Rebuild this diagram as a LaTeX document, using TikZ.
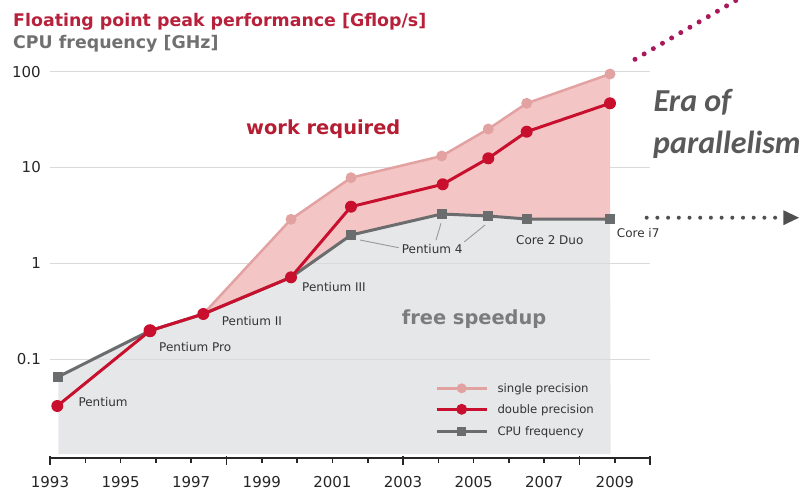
\documentclass[tikz,border=0pt]{standalone}
\usepackage{fontspec}
\setmainfont{DejaVu Sans}
\newfontfamily\erafont{Carlito}
\usetikzlibrary{calc}

\definecolor{dpred}{HTML}{C8102E}
\definecolor{sppink}{HTML}{E3A2A2}
\definecolor{cpugray}{HTML}{6B6C6E}
\definecolor{areapink}{HTML}{F4C5C5}
\definecolor{areagray}{HTML}{E6E7E9}
\definecolor{gridgray}{HTML}{DADADA}
\definecolor{titlered}{HTML}{B8213B}
\definecolor{titlegray}{HTML}{707070}
\definecolor{workred}{HTML}{B51D33}
\definecolor{freegray}{HTML}{7C7C7C}
\definecolor{eragray}{HTML}{595959}
\definecolor{dotmagenta}{HTML}{A8185A}
\definecolor{labelgray}{HTML}{333333}
\definecolor{arrowgray}{HTML}{505050}

\tikzset{
  spmark/.style={circle, fill=sppink, inner sep=0pt, minimum size=11pt},
  dpmark/.style={circle, fill=dpred, inner sep=0pt, minimum size=12pt},
  cpumark/.style={rectangle, fill=cpugray, inner sep=0pt, minimum size=10pt},
  spline/.style={draw=sppink, line width=2.5pt, line join=round},
  dpline/.style={draw=dpred, line width=3pt, line join=round},
  cpuline/.style={draw=cpugray, line width=3pt, line join=round},
  gridline/.style={draw=gridgray, line width=1.5pt},
  leader/.style={draw=gray!80, line width=0.9pt},
  cpulabel/.style={anchor=base west, inner sep=0pt, text=labelgray,
    font=\fontsize{12}{14}\selectfont},
  legendtext/.style={anchor=base west, inner sep=0pt, text=labelgray,
    font=\fontsize{11.7}{14}\selectfont},
  axislabel/.style={inner sep=0pt, text=black!85,
    font=\fontsize{15}{18}\selectfont},
  bigword/.style={anchor=base west, inner sep=0pt,
    font=\fontsize{19.4}{23}\selectfont\bfseries},
  titletext/.style={anchor=base west, inner sep=0pt,
    font=\fontsize{17.4}{20}\selectfont\bfseries},
  eratext/.style={anchor=base west, inner sep=0pt, text=eragray,
    font=\fontsize{32}{38}\selectfont\erafont\bfseries\itshape},
}

\begin{document}
\begin{tikzpicture}[x=1pt, y=-1pt]
\useasboundingbox (0,0) rectangle (802,492);
\clip (0,0) rectangle (802,492);

% data points (pixel layout, y grows downwards)
\coordinate (c1) at (58.3,376.7);
\coordinate (c5) at (351,235);
\coordinate (c6) at (441.7,214);
\coordinate (c7) at (488.3,216);
\coordinate (c8) at (526.7,219);
\coordinate (c9) at (610,219);
\coordinate (d1) at (57.3,406);
\coordinate (d2) at (150,330.7);
\coordinate (d3) at (203.3,314);
\coordinate (d4) at (291,277.3);
\coordinate (d5) at (351,206.7);
\coordinate (d6) at (442.7,184.3);
\coordinate (d7) at (488.3,158.3);
\coordinate (d8) at (526.7,131.7);
\coordinate (d9) at (610,103.3);
\coordinate (s4) at (291,219.3);
\coordinate (s5) at (351,177.7);
\coordinate (s6) at (441.7,156);
\coordinate (s7) at (488.3,129);
\coordinate (s8) at (526.7,103.3);
\coordinate (s9) at (610,74);
\coordinate (gbl) at (58.3,454);
\coordinate (gbr) at (610.7,454);

% free speedup area below the clock frequency
\fill[areagray] (c1) -- (d2) -- (d3) -- (d4) -- (c5) -- (c6) -- (c7) -- (c8) -- (c9)
  -- (gbr) -- (gbl) -- cycle;

% horizontal grid
\foreach \gy in {71.7,167.3,263.3,359.3}
  \draw[gridline] (50,\gy) -- (650,\gy);

% work required area between single precision and clock frequency
\fill[areapink] (d3) -- (s4) -- (s5) -- (s6) -- (s7) -- (s8) -- (s9)
  -- (c9) -- (c8) -- (c7) -- (c6) -- (c5) -- (d4) -- cycle;

% series lines
\draw[spline] (d3) -- (s4) -- (s5) -- (s6) -- (s7) -- (s8) -- (s9);
\draw[cpuline] (c1) -- (d2) -- (d3) -- (d4) -- (c5) -- (c6) -- (c7) -- (c8) -- (c9);
\draw[dpline] (d1) -- (d2) -- (d3) -- (d4) -- (d5) -- (d6) -- (d7) -- (d8) -- (d9);

% markers
\foreach \p in {4,...,9} \node[spmark] (SP\p) at (s\p) {};
\foreach \p in {1,5,6,7,8,9} \node[cpumark] (CPU\p) at (c\p) {};
\foreach \p in {1,...,9} \node[dpmark] (DP\p) at (d\p) {};
\node[dpmark, minimum size=13pt] (DP2b) at (d2) {};

% processor labels
\node[cpulabel] (lpent)  at (78.3,406.7)  {Pentium};
\node[cpulabel] (lpro)   at (159,351.7)   {Pentium Pro};
\node[cpulabel] (lp2)    at (221.7,325.1) {Pentium II};
\node[cpulabel] (lp3)    at (302,291.7)   {Pentium III};
\node[cpulabel] (lp4)    at (401.7,253.7) {Pentium 4};
\node[cpulabel] (lc2d)   at (516,244.4)   {Core 2 Duo};
\node[cpulabel] (lci7)   at (616.7,237.7) {Core i7};

% leaders from the Pentium 4 points to their label
\draw[leader] ($(CPU5)+(9,5)$) -- ($(lp4.west)+(-3,-1.5)$);
\draw[leader] ($(CPU6)+(-0.7,9.3)$) -- ($(lp4.north west)+(34.3,-4.3)$);
\draw[leader] ($(CPU7)+(-3.3,9)$) -- ($(lp4.north east)+(1.6,-2.5)$);

% area captions
\node[bigword, text=workred] (work) at (246,134.3) {work required};
\node[bigword, text=freegray] (free) at (401.7,324) {free speedup};

% titles
\node[titletext, text=titlered] (t1) at (13,26.7) {Floating point peak performance [Gflop/s]};
\node[titletext, text=titlegray] (t2) at (13,48.3) {CPU frequency [GHz]};

% legend
\draw[spline] (436.7,388.3) -- (486.7,388.3);
\node[spmark, minimum size=10pt] (legsp) at (461.7,388.3) {};
\draw[dpline] (436.7,409.3) -- (486.7,409.3);
\node[dpmark, minimum size=11pt] (legdp) at (461.7,409.3) {};
\draw[cpuline] (436.7,431) -- (486.7,431);
\node[cpumark, minimum size=9pt] (legcpu) at (461.7,431) {};
\node[legendtext] (ltsp) at (497.3,392.7) {single precision};
\node[legendtext] (ltdp) at (497.3,413.7) {double precision};
\node[legendtext] (ltcpu) at (497.3,435.4) {CPU frequency};

% x axis
\draw[black!85, line width=2pt] (50,458) -- (650,458);
\foreach \k in {0,...,17} {
  \pgfmathtruncatemacro{\r}{mod(\k,5)}
  \ifnum\r=0
    \draw[black!85, line width=1.6pt] ({50+35.3*\k},456) -- ({50+35.3*\k},465);
  \else
    \draw[black!85, line width=1.6pt] ({50+35.3*\k},458) -- ({50+35.3*\k},463);
  \fi
}
\draw[black!85, line width=1.6pt] (650,456) -- (650,465);
\foreach \yr [count=\i from 0] in {1993,1995,...,2009}
  \node[axislabel] (yr\yr) at ({50+70.6*\i},481.7) {\yr};

% y axis labels
\node[axislabel, anchor=east] (yl100) at (41,71.7) {100};
\node[axislabel, anchor=east] (yl10) at (41,167.3) {10};
\node[axislabel, anchor=east] (yl1) at (41,263.3) {1};
\node[axislabel, anchor=east] (yl01) at (41,359.3) {0.1};

% era of parallelism
\node[eratext] (era1) at (653.3,111.7) {Era of};
\node[eratext] (era2) at (653,153.3) {parallelism};

% dotted pointers
\coordinate (mstart) at (635,59.3);
\coordinate (mend) at (760,-13.6);
\draw[dotmagenta, line width=5pt, line cap=round, dash pattern=on 0pt off 10.6pt]
  (mstart) -- (mend);
\coordinate (hstart) at (646.7,217.7);
\coordinate (hend) at (776,217.7);
\coordinate (htip) at (799,217.7);
\draw[arrowgray, line width=4pt, line cap=round, dash pattern=on 0pt off 10.7pt]
  (hstart) -- (hend);
\fill[arrowgray] ($(htip)+(-15.7,-7.5)$) -- (htip) -- ($(htip)+(-15.7,7.5)$) -- cycle;
\end{tikzpicture}
\end{document}
